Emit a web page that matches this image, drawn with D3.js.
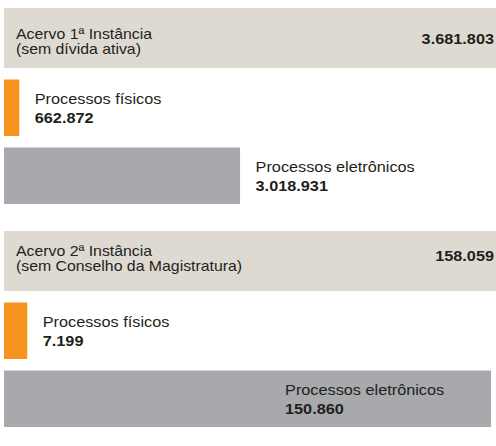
<!DOCTYPE html>
<html>
<head>
<meta charset="utf-8">
<script src="https://cdn.jsdelivr.net/npm/d3@7"></script>
<style>
  body { margin: 0; background: #fff; }
  text { font-family: "Liberation Sans", Arial, sans-serif; fill: #231f20; }
</style>
</head>
<body>
<div id="chart"></div>
<script>
// data
var panelTitles = ["Acervo 1ª Instância", "Acervo 2ª Instância"];
var panelNotes = ["(sem dívida ativa)", "(sem Conselho da Magistratura)"];
var totals = [3681803, 158059];
var partNames = ["Processos físicos", "Processos eletrônicos"];
var fisicos = [662872, 7199];
var eletronicos = [3018931, 150860];

// axis extent of each panel (the first one does not start at zero)
var axisMin = [500000, 0];
var axisMax = [5750000, 152400];

var width = 496, height = 446;
var left = 4, right = 496;
var panelTop = [8, 231];
var headerH = 60, barH = 56.5;
var rowTop = [71.5, 139.5];
var headerDy = [30.5, 24.5];
var colors = ["#f7941e", "#a7a9ac"];
var sx = 1.1; // fonts are a bit wider than Liberation Sans

var fmt = d3.formatLocale({decimal: ",", thousands: ".", grouping: [3], currency: ["R$", ""]}).format(",d");

var svg = d3.select("#chart")
  .append("svg")
  .attr("width", width)
  .attr("height", height);

function addText(g, x, y, str, opts) {
  return g.append("text")
    .attr("transform", "translate(" + x + "," + y + ") scale(" + sx + ",1)")
    .attr("text-anchor", opts.anchor || "start")
    .style("font-size", (opts.size || 14.8) + "px")
    .style("font-weight", opts.bold ? "bold" : "normal")
    .text(str);
}

panelTitles.forEach(function(title, i) {
  var g = svg.append("g")
    .attr("transform", "translate(0," + panelTop[i] + ")");

  var x = d3.scaleLinear()
    .domain([axisMin[i], axisMax[i]])
    .range([0, right - left])
    .clamp(true);

  // header band with the total
  g.append("rect")
    .attr("x", left)
    .attr("y", 0)
    .attr("width", right - left)
    .attr("height", headerH)
    .attr("fill", "#dfdad1");

  addText(g, 16, headerDy[i], title, {size: 14.4});
  addText(g, 16, headerDy[i] + 15, panelNotes[i], {size: 14.4});
  addText(g, 494, headerDy[i] + 5.5, fmt(totals[i]), {bold: true, anchor: "end"});

  var parts = [fisicos[i], eletronicos[i]];
  parts.forEach(function(v, j) {
    var y0 = rowTop[j];
    var w = x(v);
    g.append("rect")
      .attr("x", left)
      .attr("y", y0)
      .attr("width", w)
      .attr("height", barH)
      .attr("fill", colors[j]);

    // label right of the bar, or inside when there is no room
    var lx = left + w + 15.5;
    if (lx + 165 > right) lx = left + w - 206;
    addText(g, lx, y0 + 24.5, partNames[j], {});
    addText(g, lx, y0 + 43, fmt(v), {bold: true});
  });
});
</script>
</body>
</html>
